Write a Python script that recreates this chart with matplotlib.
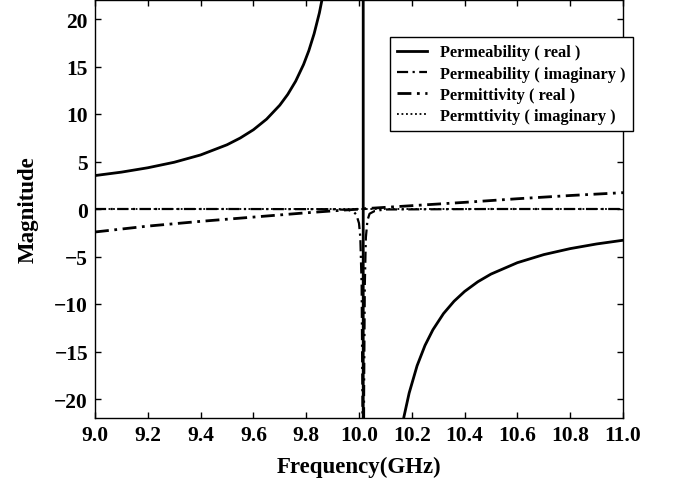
import matplotlib
matplotlib.use("Agg")
import matplotlib.pyplot as plt

# ---- data ----
freq_mu_re = [9.0, 9.1, 9.2, 9.3, 9.4, 9.5, 9.55, 9.6, 9.65, 9.7, 9.73, 9.76, 9.79,
              9.81, 9.83, 9.85, 9.87, 9.9, 9.95, 9.98, 10.0, 10.01, 10.015, 10.017,
              10.022, 10.03, 10.06, 10.1, 10.13, 10.15, 10.17, 10.19, 10.22, 10.25,
              10.28, 10.32, 10.36, 10.4, 10.45, 10.5, 10.6, 10.7, 10.8, 10.9, 11.0]
mu_real = [3.52, 3.88, 4.34, 4.92, 5.69, 6.76, 7.47, 8.34, 9.46, 10.93, 12.06, 13.45, 15.21,
           16.67, 18.45, 20.65, 23.46, 29.5, 51.0, 95.0, 210.0, 560.0, 1000.0, -1000.0,
           -560.0, -250.0, -77.0, -40.0, -29.0, -25.2, -21.9, -19.37, -16.5, -14.36,
           -12.71, -11.01, -9.71, -8.68, -7.66, -6.85, -5.65, -4.8, -4.17, -3.68, -3.29]

freq_mu_im = [9.0, 9.5, 9.9, 9.96, 9.98, 9.99, 10.0, 10.005, 10.01, 10.013, 10.016,
              10.019, 10.022, 10.026, 10.032, 10.04, 10.06, 10.1, 10.5, 11.0]
mu_imag = [0.0, 0.0, -0.02, -0.1, -0.3, -0.6, -1.5, -3.0, -8.0, -20.0, -60.0,
           -20.0, -8.0, -3.0, -1.2, -0.5, -0.2, -0.05, 0.0, 0.0]

freq_eps = [9.0, 9.2, 9.4, 9.6, 9.8, 9.95, 10.0, 10.03, 10.2, 10.4, 10.6, 10.8, 11.0]
eps_real = [-2.42, -1.8, -1.3, -0.85, -0.4, -0.1, -0.02, 0.05, 0.35, 0.7, 1.08, 1.42, 1.72]
eps_imag = [0.0, 0.0, 0.0, 0.0, 0.0, 0.0, 0.0, 0.0, 0.0, 0.0, 0.0, 0.0, 0.0]

labels = ["Permeability ( real )", "Permeability ( imaginary )",
          "Permittivity ( real )", "Permttivity ( imaginary )"]
xticks = [9.0, 9.2, 9.4, 9.6, 9.8, 10.0, 10.2, 10.4, 10.6, 10.8, 11.0]
yticks = [-20, -15, -10, -5, 0, 5, 10, 15, 20]

plt.rcParams['font.family'] = ['Liberation Serif', 'DejaVu Serif']
plt.rcParams['font.weight'] = 'bold'

fig = plt.figure(figsize=(6.78, 4.85), dpi=100)
ax = fig.add_axes([95/678, 66/485, 528/678, 418/485])

ax.plot(freq_mu_re, mu_real, color='black', lw=2.0, ls='-', label=labels[0])
ax.plot(freq_mu_im, mu_imag, color='black', lw=1.6, ls=(0, (5, 2, 1, 2)), label=labels[1])
ax.plot(freq_eps, eps_real, color='black', lw=2.0, ls=(0, (5, 2, 1, 2)), label=labels[2])
ax.plot(freq_eps, eps_imag, color='black', lw=1.3, ls=(0, (1, 1.5)), label=labels[3])

ax.set_xlim(9.0, 11.0)
ax.set_ylim(-22, 22)
ax.set_xticks(xticks)
ax.set_xticklabels([f"{t:.1f}" for t in xticks])
ax.set_yticks(yticks)
ax.tick_params(direction='in', length=4, width=1, top=True, right=True,
               labelsize=15.5, pad=5)
for lab in ax.get_xticklabels() + ax.get_yticklabels():
    lab.set_fontweight('bold')
for sp in ax.spines.values():
    sp.set_linewidth(1.0)

ax.set_xlabel("Frequency(GHz)", fontsize=16.5, fontweight='bold', labelpad=8)
ax.set_ylabel("Magnitude", fontsize=16.5, fontweight='bold', labelpad=11)

leg = ax.legend(loc='upper left', bbox_to_anchor=(295/528, 1 - 37/418),
                borderaxespad=0, fancybox=False, framealpha=1, edgecolor='black',
                prop={'family': 'Liberation Serif', 'weight': 'bold', 'size': 11.8},
                handlelength=1.8, handletextpad=0.8, labelspacing=0.32,
                borderpad=0.45)
leg.get_frame().set_linewidth(1.0)

fig.savefig("out.png", dpi=100)
